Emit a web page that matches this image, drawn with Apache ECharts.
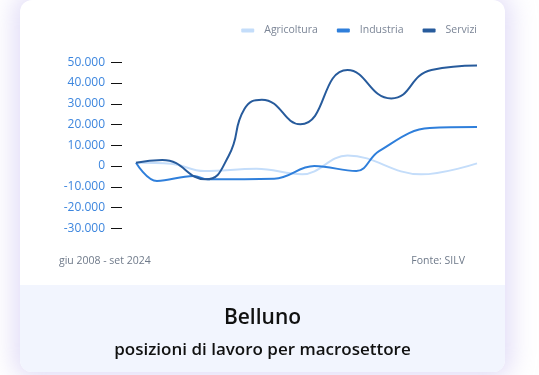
<!DOCTYPE html>
<html>
<head>
<meta charset="utf-8">
<script src="https://cdn.jsdelivr.net/npm/echarts@6/dist/echarts.min.js"></script>
<style>
  html, body { margin: 0; padding: 0; width: 539px; height: 375px; background: #ffffff; overflow: hidden; }
  #card { position: absolute; left: 20px; top: 0px; width: 485px; height: 372px; background: #ffffff;
          border-radius: 12px; box-shadow: 0 0 24px 6px rgba(195, 185, 240, 0.5); overflow: hidden; }
  #footer { position: absolute; left: 0; top: 285px; width: 485px; height: 87px; background: #f2f5fe; }
  #chart { position: absolute; left: 0; top: 0; width: 539px; height: 375px; }
</style>
</head>
<body>
<div id="card"><div id="footer"></div></div>
<div id="chart"></div>
<script>
// ---- Data ----
var seriesNames = ['Agricoltura', 'Industria', 'Servizi'];

var agriDates  = ['2008-06', '2010-02', '2011-09', '2014-03', '2016-05', '2018-07', '2022-01', '2024-09'];
var agriValues = [1600, 1100, -2400, -1300, -4000, 5100, -4000, 1300];

var indDates   = ['2008-06', '2009-06', '2011-03', '2011-11', '2015-01', '2016-12', '2018-12', '2020-01', '2022-06', '2024-09'];
var indValues  = [1600, -7200, -4800, -6400, -6100, 0, -2400, 7200, 18300, 18800];

var servDates  = ['2008-06', '2009-09', '2011-10', '2012-11', '2013-08', '2014-06', '2016-04', '2018-07', '2020-08', '2022-07', '2024-09'];
var servValues = [1600, 2900, -6400, 5000, 27500, 32000, 20100, 46300, 32600, 46300, 48500];

var yTicks = [-30000, -20000, -10000, 0, 10000, 20000, 30000, 40000, 50000];
var periodLabel = 'giu 2008 - set 2024';
var sourceLabel = 'Fonte: SILV';
var titleText = 'Belluno';
var subtitleText = 'posizioni di lavoro per macrosettore';

var colors = ['#c4ddfa', '#2f7fdb', '#275b9c'];

function pairs(d, v) { return d.map(function (x, i) { return [x + '-01', v[i]]; }); }
function fmt(v) {
  var s = Math.abs(v).toString().replace(/\B(?=(\d{3})+(?!\d))/g, '.');
  return (v < 0 ? '-' : '') + s;
}

var chart = echarts.init(document.getElementById('chart'), null, { renderer: 'canvas' });
var font = '"Open Sans", "Noto Sans", sans-serif';

chart.setOption({
  backgroundColor: 'transparent',
  animation: false,
  color: colors,
  textStyle: { fontFamily: font },
  legend: {
    data: seriesNames,
    right: 57, top: 20,
    itemWidth: 13, itemHeight: 4, itemGap: 19,
    icon: 'roundRect',
    textStyle: { color: '#7b8596', fontSize: 10.5, fontFamily: font, padding: [0, 0, 0, 5] }
  },
  grid: { left: 136, right: 62, top: 62.3, bottom: 146.7, containLabel: false },
  xAxis: {
    type: 'time', min: '2008-06-01', max: '2024-09-01', show: false
  },
  yAxis: {
    type: 'value', min: yTicks[0], max: yTicks[yTicks.length - 1], interval: 10000,
    offset: 14,
    axisLine: { show: false },
    axisTick: { show: true, length: 11, lineStyle: { color: '#111', width: 1 } },
    splitLine: { show: false },
    axisLabel: { color: '#3d86de', fontSize: 12, margin: 17, fontFamily: font,
                 formatter: function (v) { return fmt(v); } }
  },
  series: [
    { name: seriesNames[0], type: 'line', smooth: 0.4, symbol: 'none', lineStyle: { width: 2 },
      data: pairs(agriDates, agriValues) },
    { name: seriesNames[1], type: 'line', smooth: 0.4, symbol: 'none', lineStyle: { width: 2 },
      data: pairs(indDates, indValues) },
    { name: seriesNames[2], type: 'line', smooth: 0.5, symbol: 'none', lineStyle: { width: 2 },
      data: pairs(servDates, servValues) }
  ],
  graphic: [
    { type: 'text', left: 59, top: 256, style: { text: periodLabel, fill: '#6f7a8a', font: '10.5px ' + font } },
    { type: 'text', right: 74, top: 256, style: { text: sourceLabel, fill: '#6f7a8a', font: '10.5px ' + font } },
    { type: 'text', x: 262.5, y: 318, style: { text: titleText, fill: '#111', font: '600 21px ' + font, align: 'center', verticalAlign: 'middle' } },
    { type: 'text', x: 262.5, y: 350, style: { text: subtitleText, fill: '#111', font: '600 17px ' + font, align: 'center', verticalAlign: 'middle' } }
  ]
});
</script>
</body>
</html>
